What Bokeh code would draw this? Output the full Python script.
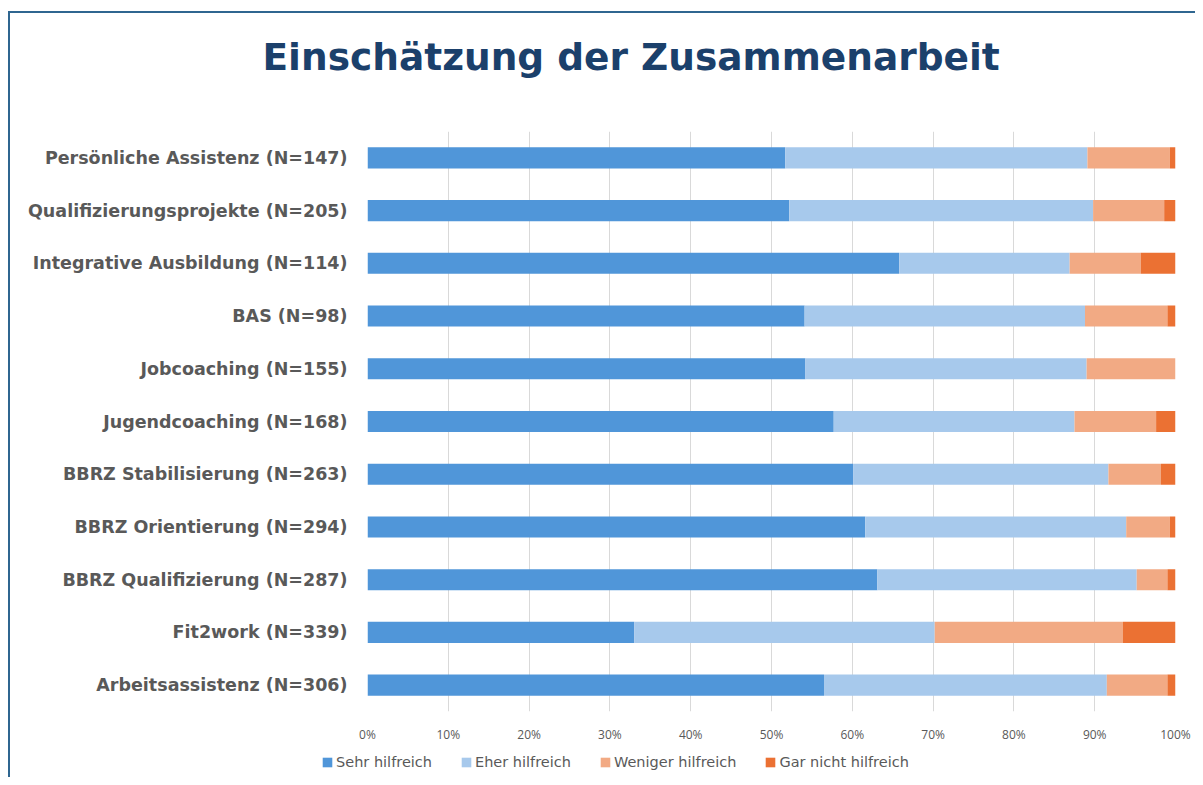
from bokeh.plotting import figure
from bokeh.models import (ColumnDataSource, FactorRange, Range1d, FixedTicker,
                          PrintfTickFormatter, Label, Legend, LegendItem)
from bokeh.layouts import column
from bokeh.embed import file_html
from bokeh.resources import INLINE

# ---------------- data ----------------
categories = [
    "Persönliche Assistenz (N=147)",
    "Qualifizierungsprojekte (N=205)",
    "Integrative Ausbildung (N=114)",
    "BAS (N=98)",
    "Jobcoaching (N=155)",
    "Jugendcoaching (N=168)",
    "BBRZ Stabilisierung (N=263)",
    "BBRZ Orientierung (N=294)",
    "BBRZ Qualifizierung (N=287)",
    "Fit2work (N=339)",
    "Arbeitsassistenz (N=306)",
]
sehr_hilfreich =    [51.7, 52.2, 65.8, 54.1, 54.2, 57.7, 60.1, 61.6, 63.1, 33.0, 56.5]
eher_hilfreich =    [37.4, 37.6, 21.1, 34.7, 34.8, 29.8, 31.6, 32.3, 32.1, 37.2, 35.0]
weniger_hilfreich = [10.2,  8.8,  8.8, 10.2, 11.0, 10.1,  6.5,  5.4,  3.8, 23.3,  7.5]
gar_nicht =         [ 0.7,  1.5,  4.4,  1.0,  0.0,  2.4,  1.9,  0.7,  1.0,  6.5,  1.0]
series_names = ["Sehr hilfreich", "Eher hilfreich", "Weniger hilfreich", "Gar nicht hilfreich"]
x_ticks = [0, 10, 20, 30, 40, 50, 60, 70, 80, 90, 100]
title_text = "Einschätzung der Zusammenarbeit"

colors = ["#5096D9", "#A7C9EC", "#F2AA84", "#EB7133"]
keys = ["s0", "s1", "s2", "s3"]

source = ColumnDataSource(dict(cat=categories, s0=sehr_hilfreich, s1=eher_hilfreich,
                               s2=weniger_hilfreich, s3=gar_nicht))


def strip(height):
    f = figure(width=1185, height=height, output_backend="svg", toolbar_location=None,
               x_range=Range1d(0, 100), y_range=FactorRange(factors=list(reversed(categories))),
               x_axis_type=None, y_axis_type=None, min_border=0)
    f.outline_line_color = None
    f.border_fill_color = "white"
    f.background_fill_color = "white"
    f.grid.visible = False
    if hasattr(f, "frame_align"):
        f.frame_align = False
    return f


# ---------------- title strip ----------------
top = strip(118)
top.add_layout(Label(x=252, y=75, x_units="screen", y_units="screen", text=title_text,
                     text_align="left", text_baseline="alphabetic",
                     text_font="DejaVu Sans", text_font_style="bold",
                     text_font_size="37.5px", text_color="#1B406B"))

# ---------------- main chart ----------------
p = figure(width=1185, height=614, output_backend="svg", toolbar_location=None,
           y_range=FactorRange(factors=list(reversed(categories))),
           x_range=Range1d(0, 100),
           min_border_left=357, min_border_right=20, min_border_top=0,
           min_border_bottom=34)
p.outline_line_color = None
p.background_fill_color = "white"
p.border_fill_color = "white"
if hasattr(p, "frame_align"):
    p.frame_align = False

p.hbar_stack(keys, y="cat", height=0.4, color=colors, line_width=0, source=source)

p.xaxis.ticker = FixedTicker(ticks=x_ticks)
p.xaxis.formatter = PrintfTickFormatter(format="%d%%")
p.xaxis.axis_line_color = None
p.xaxis.major_tick_line_color = None
p.xaxis.minor_tick_line_color = None
p.xaxis.major_label_text_font = "Open Sans"
p.xaxis.major_label_text_font_size = "12px"
p.xaxis.major_label_text_color = "#595959"
p.xaxis.major_label_standoff = 8

p.yaxis.axis_line_color = None
p.yaxis.major_tick_line_color = None
p.yaxis.minor_tick_line_color = None
p.yaxis.major_label_text_font = "DejaVu Sans"
p.yaxis.major_label_text_font_style = "bold"
p.yaxis.major_label_text_font_size = "17.5px"
p.yaxis.major_label_text_color = "#595959"
p.yaxis.major_label_standoff = 14

p.ygrid.grid_line_color = None
p.xgrid.grid_line_color = "#D9D9D9"
p.xgrid.ticker = FixedTicker(ticks=x_ticks)

# ---------------- legend strip ----------------
leg = strip(32)
items = []
for name, k, c in zip(series_names, keys, colors):
    r = leg.hbar(y="cat", right=k, height=0.4, fill_color=c, line_color=None,
                 source=source, visible=False)
    items.append(LegendItem(label=name, renderers=[r]))
legend = Legend(items=items, location=(311, 5), orientation="horizontal",
                glyph_width=12, glyph_height=12, label_height=20,
                label_standoff=3, spacing=28, padding=0, margin=0,
                label_text_font="DejaVu Sans", label_text_font_size="14.5px",
                label_text_color="#595959", border_line_color=None,
                background_fill_alpha=0, inactive_fill_alpha=0)
leg.add_layout(legend, "center")

layout = column(top, p, leg, spacing=0)
layout.styles = {"margin-left": "8px", "margin-top": "11px",
                 "border-top": "2px solid #2F6690", "border-left": "2px solid #2F6690"}

open("out.html", "w").write(file_html(layout, INLINE))
